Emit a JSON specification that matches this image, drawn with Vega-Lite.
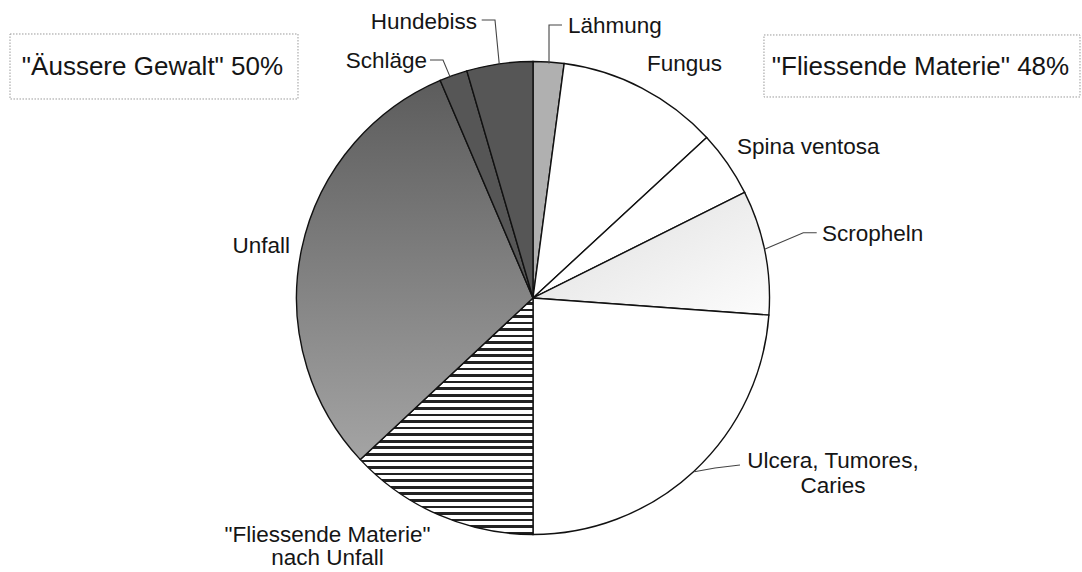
{
  "$schema": "https://vega.github.io/schema/vega-lite/v6.json",
  "width": 1082,
  "height": 572,
  "padding": 0,
  "autosize": {"type": "none"},
  "background": "white",
  "view": {"stroke": null},
  "config": {"text": {"font": "Liberation Sans", "fontSize": 22.5, "fill": "#151515"}},
  "layer": [
    {
      "data": {"values": [
        {"cat": "Lähmung", "value": 2.1, "ord": 1},
        {"cat": "Fungus", "value": 11.0, "ord": 2},
        {"cat": "Spina ventosa", "value": 4.5, "ord": 3},
        {"cat": "Scropheln", "value": 8.5, "ord": 4},
        {"cat": "Ulcera, Tumores, Caries", "value": 23.8, "ord": 5},
        {"cat": "\"Fliessende Materie\" nach Unfall", "value": 13.0, "ord": 6},
        {"cat": "Unfall", "value": 30.5, "ord": 7},
        {"cat": "Schläge", "value": 1.9, "ord": 8},
        {"cat": "Hundebiss", "value": 4.5, "ord": 9}
      ]},
      "mark": {"type": "arc", "outerRadius": 236.5, "stroke": "#111", "strokeWidth": 1.4},
      "encoding": {
        "theta": {"field": "value", "type": "quantitative", "stack": true},
        "order": {"field": "ord", "type": "quantitative"},
        "x": {"datum": 0, "type": "quantitative", "scale": {"domain": [-2.2537, 2.3214], "nice": false, "zero": false}, "axis": null},
        "y": {"datum": 0, "type": "quantitative", "scale": {"domain": [-1.1586, 1.26], "nice": false, "zero": false}, "axis": null},
        "fill": {
          "condition": [
            {"test": "datum.cat === 'Lähmung'", "value": "#b0b0b0"},
            {"test": "datum.cat === 'Scropheln'", "value": {"gradient": "linear", "x1": 0, "y1": 0, "x2": 1, "y2": 1, "stops": [{"offset": 0, "color": "#dedede"}, {"offset": 1, "color": "#fcfcfc"}]}},
            {"test": "datum.cat === 'Unfall'", "value": {"gradient": "linear", "x1": 0, "y1": 0, "x2": 0, "y2": 1, "stops": [{"offset": 0, "color": "#5c5c5c"}, {"offset": 1, "color": "#a4a4a4"}]}},
            {"test": "datum.cat === 'Schläge' || datum.cat === 'Hundebiss'", "value": "#565656"},
            {"test": "datum.ord === 6", "value": {"gradient": "linear", "x1": 0, "y1": 0, "x2": 0, "y2": 1, "stops": [
              {"offset": 0, "color": "#fff"},
              {"offset": 0.01667, "color": "#fff"}, {"offset": 0.01667, "color": "#222"}, {"offset": 0.02778, "color": "#222"}, {"offset": 0.02778, "color": "#fff"},
              {"offset": 0.04444, "color": "#fff"}, {"offset": 0.04444, "color": "#222"}, {"offset": 0.05556, "color": "#222"}, {"offset": 0.05556, "color": "#fff"},
              {"offset": 0.07222, "color": "#fff"}, {"offset": 0.07222, "color": "#222"}, {"offset": 0.08333, "color": "#222"}, {"offset": 0.08333, "color": "#fff"},
              {"offset": 0.1, "color": "#fff"}, {"offset": 0.1, "color": "#222"}, {"offset": 0.11111, "color": "#222"}, {"offset": 0.11111, "color": "#fff"},
              {"offset": 0.12778, "color": "#fff"}, {"offset": 0.12778, "color": "#222"}, {"offset": 0.13889, "color": "#222"}, {"offset": 0.13889, "color": "#fff"},
              {"offset": 0.15556, "color": "#fff"}, {"offset": 0.15556, "color": "#222"}, {"offset": 0.16667, "color": "#222"}, {"offset": 0.16667, "color": "#fff"},
              {"offset": 0.18333, "color": "#fff"}, {"offset": 0.18333, "color": "#222"}, {"offset": 0.19444, "color": "#222"}, {"offset": 0.19444, "color": "#fff"},
              {"offset": 0.21111, "color": "#fff"}, {"offset": 0.21111, "color": "#222"}, {"offset": 0.22222, "color": "#222"}, {"offset": 0.22222, "color": "#fff"},
              {"offset": 0.23889, "color": "#fff"}, {"offset": 0.23889, "color": "#222"}, {"offset": 0.25, "color": "#222"}, {"offset": 0.25, "color": "#fff"},
              {"offset": 0.26667, "color": "#fff"}, {"offset": 0.26667, "color": "#222"}, {"offset": 0.27778, "color": "#222"}, {"offset": 0.27778, "color": "#fff"},
              {"offset": 0.29444, "color": "#fff"}, {"offset": 0.29444, "color": "#222"}, {"offset": 0.30556, "color": "#222"}, {"offset": 0.30556, "color": "#fff"},
              {"offset": 0.32222, "color": "#fff"}, {"offset": 0.32222, "color": "#222"}, {"offset": 0.33333, "color": "#222"}, {"offset": 0.33333, "color": "#fff"},
              {"offset": 0.35, "color": "#fff"}, {"offset": 0.35, "color": "#222"}, {"offset": 0.36111, "color": "#222"}, {"offset": 0.36111, "color": "#fff"},
              {"offset": 0.37778, "color": "#fff"}, {"offset": 0.37778, "color": "#222"}, {"offset": 0.38889, "color": "#222"}, {"offset": 0.38889, "color": "#fff"},
              {"offset": 0.40556, "color": "#fff"}, {"offset": 0.40556, "color": "#222"}, {"offset": 0.41667, "color": "#222"}, {"offset": 0.41667, "color": "#fff"},
              {"offset": 0.43333, "color": "#fff"}, {"offset": 0.43333, "color": "#222"}, {"offset": 0.44444, "color": "#222"}, {"offset": 0.44444, "color": "#fff"},
              {"offset": 0.46111, "color": "#fff"}, {"offset": 0.46111, "color": "#222"}, {"offset": 0.47222, "color": "#222"}, {"offset": 0.47222, "color": "#fff"},
              {"offset": 0.48889, "color": "#fff"}, {"offset": 0.48889, "color": "#222"}, {"offset": 0.5, "color": "#222"}, {"offset": 0.5, "color": "#fff"},
              {"offset": 0.51667, "color": "#fff"}, {"offset": 0.51667, "color": "#222"}, {"offset": 0.52778, "color": "#222"}, {"offset": 0.52778, "color": "#fff"},
              {"offset": 0.54444, "color": "#fff"}, {"offset": 0.54444, "color": "#222"}, {"offset": 0.55556, "color": "#222"}, {"offset": 0.55556, "color": "#fff"},
              {"offset": 0.57222, "color": "#fff"}, {"offset": 0.57222, "color": "#222"}, {"offset": 0.58333, "color": "#222"}, {"offset": 0.58333, "color": "#fff"},
              {"offset": 0.6, "color": "#fff"}, {"offset": 0.6, "color": "#222"}, {"offset": 0.61111, "color": "#222"}, {"offset": 0.61111, "color": "#fff"},
              {"offset": 0.62778, "color": "#fff"}, {"offset": 0.62778, "color": "#222"}, {"offset": 0.63889, "color": "#222"}, {"offset": 0.63889, "color": "#fff"},
              {"offset": 0.65556, "color": "#fff"}, {"offset": 0.65556, "color": "#222"}, {"offset": 0.66667, "color": "#222"}, {"offset": 0.66667, "color": "#fff"},
              {"offset": 0.68333, "color": "#fff"}, {"offset": 0.68333, "color": "#222"}, {"offset": 0.69444, "color": "#222"}, {"offset": 0.69444, "color": "#fff"},
              {"offset": 0.71111, "color": "#fff"}, {"offset": 0.71111, "color": "#222"}, {"offset": 0.72222, "color": "#222"}, {"offset": 0.72222, "color": "#fff"},
              {"offset": 0.73889, "color": "#fff"}, {"offset": 0.73889, "color": "#222"}, {"offset": 0.75, "color": "#222"}, {"offset": 0.75, "color": "#fff"},
              {"offset": 0.76667, "color": "#fff"}, {"offset": 0.76667, "color": "#222"}, {"offset": 0.77778, "color": "#222"}, {"offset": 0.77778, "color": "#fff"},
              {"offset": 0.79444, "color": "#fff"}, {"offset": 0.79444, "color": "#222"}, {"offset": 0.80556, "color": "#222"}, {"offset": 0.80556, "color": "#fff"},
              {"offset": 0.82222, "color": "#fff"}, {"offset": 0.82222, "color": "#222"}, {"offset": 0.83333, "color": "#222"}, {"offset": 0.83333, "color": "#fff"},
              {"offset": 0.85, "color": "#fff"}, {"offset": 0.85, "color": "#222"}, {"offset": 0.86111, "color": "#222"}, {"offset": 0.86111, "color": "#fff"},
              {"offset": 0.87778, "color": "#fff"}, {"offset": 0.87778, "color": "#222"}, {"offset": 0.88889, "color": "#222"}, {"offset": 0.88889, "color": "#fff"},
              {"offset": 0.90556, "color": "#fff"}, {"offset": 0.90556, "color": "#222"}, {"offset": 0.91667, "color": "#222"}, {"offset": 0.91667, "color": "#fff"},
              {"offset": 0.93333, "color": "#fff"}, {"offset": 0.93333, "color": "#222"}, {"offset": 0.94444, "color": "#222"}, {"offset": 0.94444, "color": "#fff"},
              {"offset": 0.96111, "color": "#fff"}, {"offset": 0.96111, "color": "#222"}, {"offset": 0.97222, "color": "#222"}, {"offset": 0.97222, "color": "#fff"},
              {"offset": 0.98889, "color": "#fff"}, {"offset": 0.98889, "color": "#222"}, {"offset": 1, "color": "#222"}
            ]}}
          ],
          "value": "#ffffff"
        }
      }
    },
    {
      "data": {"values": [
        {"g": "Hundebiss", "o": 1, "u": -0.2169, "v": 1.1755},
        {"g": "Hundebiss", "o": 2, "u": -0.1607, "v": 1.1755},
        {"g": "Hundebiss", "o": 3, "u": -0.1425, "v": 0.987},
        {"g": "Lähmung", "o": 1, "u": 0.0677, "v": 0.992},
        {"g": "Lähmung", "o": 2, "u": 0.0677, "v": 1.1543},
        {"g": "Lähmung", "o": 3, "u": 0.1226, "v": 1.1543},
        {"g": "Schläge", "o": 1, "u": -0.4355, "v": 1.0063},
        {"g": "Schläge", "o": 2, "u": -0.3805, "v": 1.0063},
        {"g": "Schläge", "o": 3, "u": -0.351, "v": 0.936},
        {"g": "Scropheln", "o": 1, "u": 0.979, "v": 0.2059},
        {"g": "Scropheln", "o": 2, "u": 1.1429, "v": 0.2761},
        {"g": "Scropheln", "o": 3, "u": 1.1996, "v": 0.2761},
        {"g": "Ulcera", "o": 1, "u": 0.682, "v": -0.735},
        {"g": "Ulcera", "o": 2, "u": 0.7696, "v": -0.7188},
        {"g": "Ulcera", "o": 3, "u": 0.8753, "v": -0.7061}
      ]},
      "mark": {"type": "line", "stroke": "#444", "strokeWidth": 1.1},
      "encoding": {
        "x": {"field": "u", "type": "quantitative", "scale": {"domain": [-2.2537, 2.3214], "nice": false, "zero": false}, "axis": null},
        "y": {"field": "v", "type": "quantitative", "scale": {"domain": [-1.1586, 1.26], "nice": false, "zero": false}, "axis": null},
        "detail": {"field": "g"},
        "order": {"field": "o", "type": "quantitative"}
      }
    },
    {
      "data": {"values": [
        {"u1": -2.2114, "u2": -0.9937, "v1": 1.1163, "v2": 0.8414},
        {"u1": 0.9767, "u2": 2.3129, "v1": 1.1121, "v2": 0.8499}
      ]},
      "mark": {"type": "rect", "fill": "white", "stroke": "#9a9a9a", "strokeWidth": 1, "strokeDash": [1.5, 1.5]},
      "encoding": {
        "x": {"field": "u1", "type": "quantitative", "scale": {"domain": [-2.2537, 2.3214], "nice": false, "zero": false}, "axis": null},
        "x2": {"field": "u2"},
        "y": {"field": "v1", "type": "quantitative", "scale": {"domain": [-1.1586, 1.26], "nice": false, "zero": false}, "axis": null},
        "y2": {"field": "v2"}
      }
    },
    {
      "data": {"values": [
        {"t": "\"Äussere Gewalt\" 50%", "u": -1.6089, "v": 0.976},
        {"t": "\"Fliessende Materie\" 48%", "u": 1.6385, "v": 0.976}
      ]},
      "mark": {"type": "text", "align": "center", "baseline": "middle", "fontSize": 26},
      "encoding": {
        "x": {"field": "u", "type": "quantitative", "scale": {"domain": [-2.2537, 2.3214], "nice": false, "zero": false}, "axis": null},
        "y": {"field": "v", "type": "quantitative", "scale": {"domain": [-1.1586, 1.26], "nice": false, "zero": false}, "axis": null},
        "text": {"field": "t"}
      }
    },
    {
      "data": {"values": [
        {"t": "Hundebiss", "u": -0.2368, "v": 1.166},
        {"t": "Schläge", "u": -0.4482, "v": 1.001},
        {"t": "Unfall", "u": -1.0275, "v": 0.219}
      ]},
      "mark": {"type": "text", "align": "right", "baseline": "middle"},
      "encoding": {
        "x": {"field": "u", "type": "quantitative", "scale": {"domain": [-2.2537, 2.3214], "nice": false, "zero": false}, "axis": null},
        "y": {"field": "v", "type": "quantitative", "scale": {"domain": [-1.1586, 1.26], "nice": false, "zero": false}, "axis": null},
        "text": {"field": "t"}
      }
    },
    {
      "data": {"values": [
        {"t": "Lähmung", "u": 0.148, "v": 1.151},
        {"t": "Fungus", "u": 0.482, "v": 0.989},
        {"t": "Spina ventosa", "u": 0.8626, "v": 0.638},
        {"t": "Scropheln", "u": 1.222, "v": 0.272}
      ]},
      "mark": {"type": "text", "align": "left", "baseline": "middle"},
      "encoding": {
        "x": {"field": "u", "type": "quantitative", "scale": {"domain": [-2.2537, 2.3214], "nice": false, "zero": false}, "axis": null},
        "y": {"field": "v", "type": "quantitative", "scale": {"domain": [-1.1586, 1.26], "nice": false, "zero": false}, "axis": null},
        "text": {"field": "t"}
      }
    },
    {
      "data": {"values": [
        {"t": "Ulcera, Tumores,", "u": 1.2685, "v": -0.69},
        {"t": "Caries", "u": 1.2685, "v": -0.796},
        {"t": "\"Fliessende Materie\"", "u": -0.8689, "v": -1.002},
        {"t": "nach Unfall", "u": -0.8689, "v": -1.099}
      ]},
      "mark": {"type": "text", "align": "center", "baseline": "middle"},
      "encoding": {
        "x": {"field": "u", "type": "quantitative", "scale": {"domain": [-2.2537, 2.3214], "nice": false, "zero": false}, "axis": null},
        "y": {"field": "v", "type": "quantitative", "scale": {"domain": [-1.1586, 1.26], "nice": false, "zero": false}, "axis": null},
        "text": {"field": "t"}
      }
    }
  ]
}
